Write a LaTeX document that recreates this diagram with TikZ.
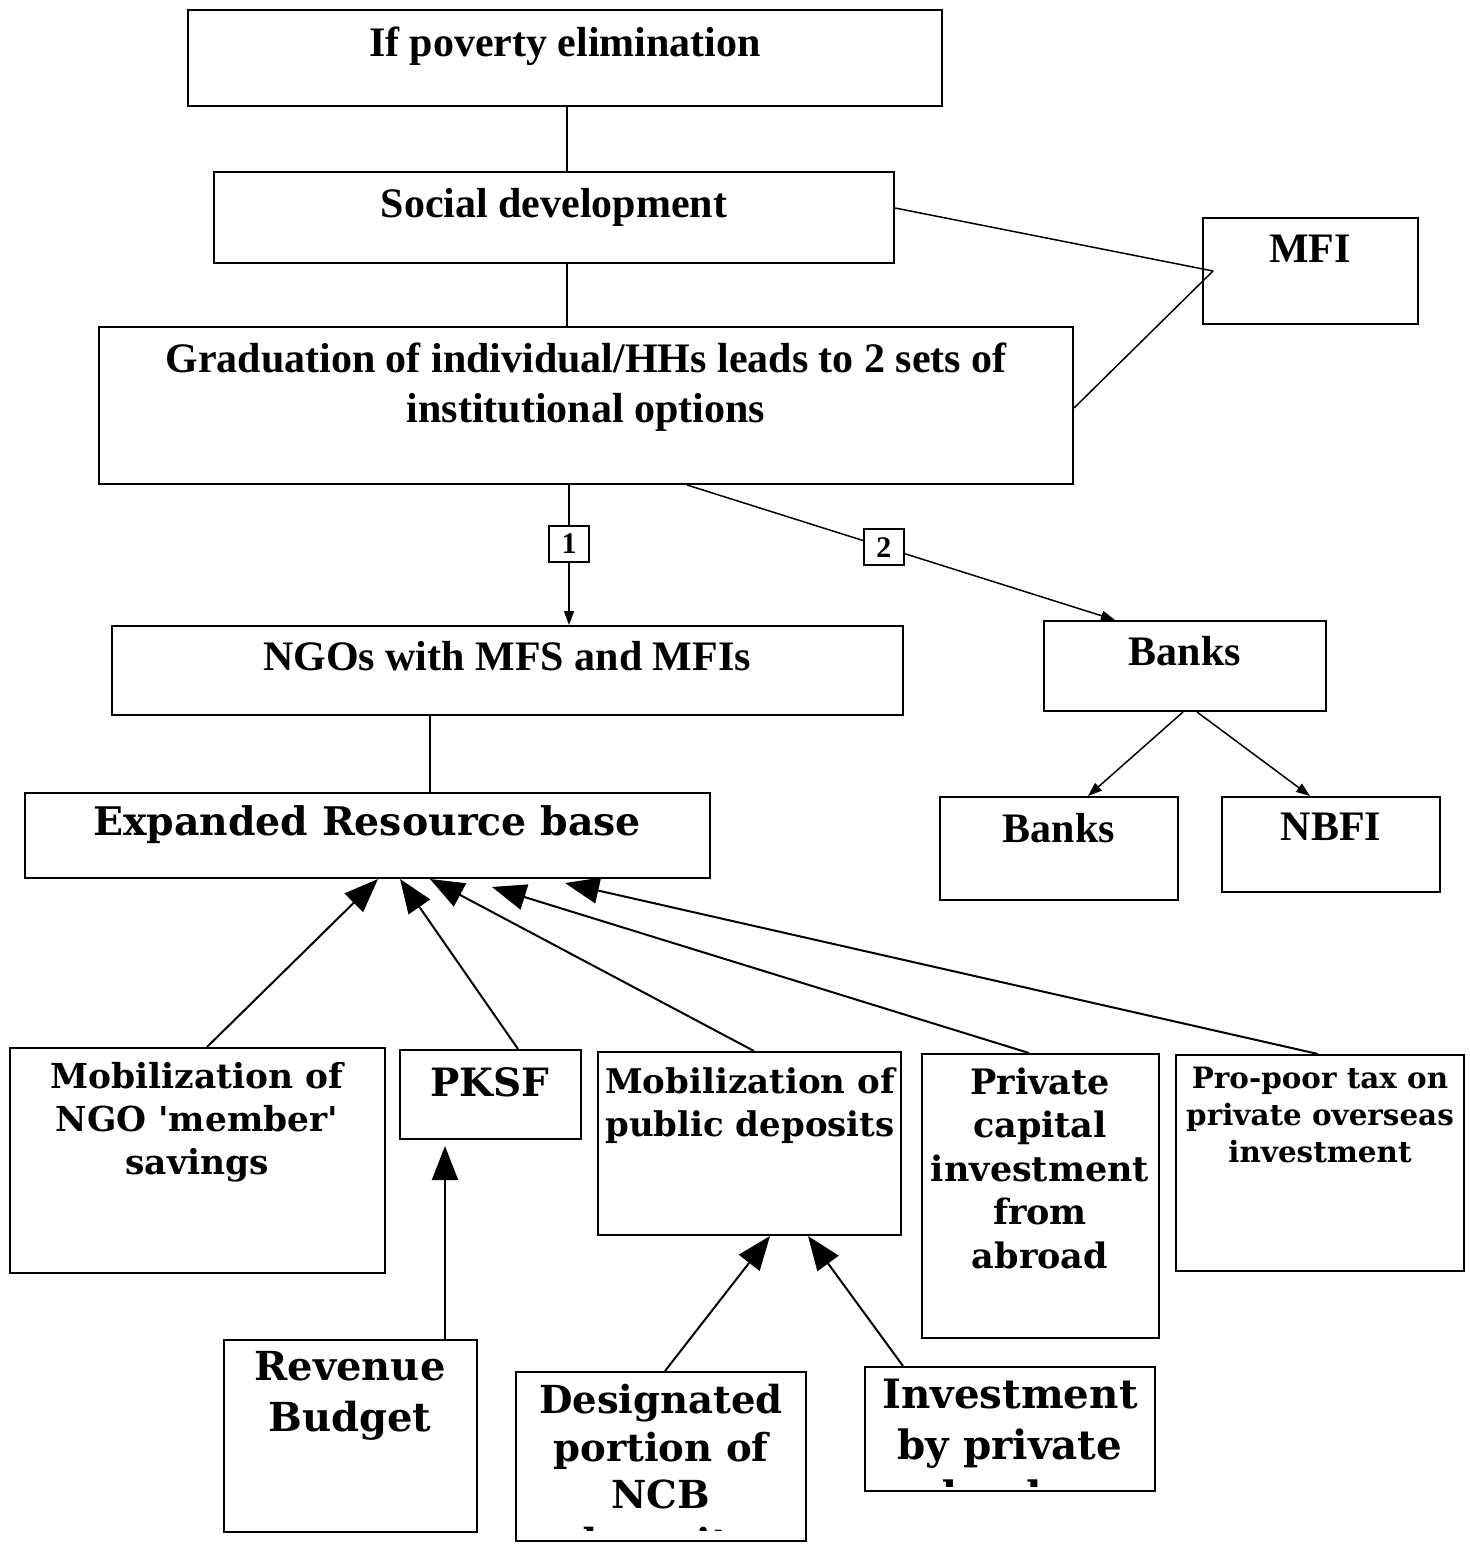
\documentclass[tikz,border=0pt]{standalone}
\usepackage{fontspec}
\setmainfont{Liberation Serif}
\newfontfamily\bkfont{DejaVu Serif}
\usetikzlibrary{arrows.meta,fit,calc}
\begin{document}
\begin{tikzpicture}[x=0.5pt,y=-0.5pt,
  box/.style={draw, line width=1pt, inner sep=0pt, rectangle},
  tm/.style={font=\fontsize{21}{25}\selectfont\bfseries, align=center, anchor=north, inner sep=0pt},
  bk/.style={align=center, anchor=north, inner sep=0pt},
  thinline/.style={line width=0.75pt},
  sarrow/.style={line width=0.75pt, -{Triangle[length=7pt,width=5pt]}},
  barrow/.style={line width=1pt, -{Triangle[length=17pt,width=13pt]}},
  lab/.style={draw, fill=white, line width=0.75pt, inner sep=0pt, minimum width=20pt, minimum height=18pt, font=\fontsize{15}{17}\selectfont\bfseries}
]
\useasboundingbox (0,0) rectangle (1470,1551);

% boxes
\node[box, fit={(188,10) (942,106)}] (pov) {};
\node[box, fit={(214,172) (894,263)}] (soc) {};
\node[box, fit={(1203,218) (1418,324)}] (mfi) {};
\node[box, fit={(99,327) (1073,484)}] (grad) {};
\node[box, fit={(112,626) (903,715)}] (ngo) {};
\node[box, fit={(1044,621) (1326,711)}] (banks) {};
\node[box, fit={(940,797) (1178,900)}] (banksb) {};
\node[box, fit={(1222,797) (1440,892)}] (nbfi) {};
\node[box, fit={(25,793) (710,878)}] (exp) {};
\node[box, fit={(10,1048) (385,1273)}] (mobngo) {};
\node[box, fit={(400,1050) (581,1139)}] (pksf) {};
\node[box, fit={(598,1052) (901,1235)}] (mobpub) {};
\node[box, fit={(922,1054) (1159,1338)}] (priv) {};
\node[box, fit={(1176,1055) (1464,1271)}] (tax) {};
\node[box, fit={(224,1340) (477,1532)}] (rev) {};
\node[box, fit={(516,1372) (806,1541)}] (des) {};
\node[box, fit={(865,1367) (1155,1491)}] (inv) {};

% texts
\node[tm] (povt) at (565,27) {If poverty elimination};
\node[tm] (soct) at (554,188) {Social development};
\node[tm] (mfit) at (1310,235) {MFI};
\node[tm] (gradt) at (586,343) {Graduation of individual/HHs leads to 2 sets of\\institutional options};
\node[tm] (ngot) at (507,641) {NGOs with MFS and MFIs};
\node[tm] (bankst) at (1185,636) {Banks};
\node[tm] (banksbt) at (1059,813) {Banks};
\node[tm] (nbfit) at (1331,813) {NBFI};

\node[bk, font=\bkfont\bfseries\fontsize{19.7}{23}\selectfont] (expt) at (367,805) {Expanded Resource base};
\node[bk, font=\bkfont\bfseries\fontsize{17.2}{21.5}\selectfont] (mobngot) at (197,1062) {Mobilization of\\NGO 'member'\\savings};
\node[bk, font=\bkfont\bfseries\fontsize{19.5}{22}\selectfont] (pksft) at (490,1067) {PKSF};
\node[bk, font=\bkfont\bfseries\fontsize{17}{21.5}\selectfont] (mobpubt) at (750,1067) {Mobilization of\\public deposits};
\node[bk, font=\bkfont\bfseries\fontsize{17.5}{21.75}\selectfont] (privt) at (1040,1067) {Private\\capital\\investment\\from\\abroad};
\node[bk, font=\bkfont\bfseries\fontsize{14.7}{18.5}\selectfont] (taxt) at (1320,1067) {Pro-poor tax on\\private overseas\\investment};
\node[bk, font=\bkfont\bfseries\fontsize{20}{25.5}\selectfont] (revt) at (350,1351) {Revenue\\Budget};
\begin{scope}
\clip (518,1374) rectangle (804,1530);
\node[bk, font=\bkfont\bfseries\fontsize{19.3}{23.75}\selectfont] (dest) at (661,1384) {Designated\\portion of\\NCB\\deposits};
\end{scope}
\begin{scope}
\clip (867,1369) rectangle (1153,1486);
\node[bk, font=\bkfont\bfseries\fontsize{20.2}{25.5}\selectfont] (invt) at (1010,1379) {Investment\\by private\\banks};
\end{scope}

% connectors
\draw[thinline] (pov.south -| 567,0) -- (soc.north -| 567,0);
\draw[thinline] (soc.south -| 567,0) -- (grad.north -| 567,0);
\coordinate (mfiin) at (1213,271);
\draw[thinline] (soc.east |- 0,208) -- (mfiin);
\draw[thinline] (grad.east |- 0,408) -- (mfiin);
\draw[sarrow] (grad.south -| 569,0) -- node[lab, pos=0.42] (l1) {1} (ngo.north -| 569,0);
\draw[sarrow] (grad.south -| 687,0) -- node[lab, pos=0.46] (l2) {2} (banks.north -| 1115,0);
\draw[sarrow] (banks.south -| 1183,0) -- (banksb.north -| 1088,0);
\draw[sarrow] (banks.south -| 1197,0) -- (nbfi.north -| 1310,0);
\draw[thinline] (ngo.south -| 430,0) -- (exp.north -| 430,0);

\draw[barrow] (mobngo.north -| 207,0) -- (exp.south -| 378,0);
\draw[barrow] (pksf.north -| 518,0) -- (exp.south -| 400,0);
\draw[barrow] (mobpub.north -| 754,0) -- (exp.south -| 430,0);
\draw[barrow] (priv.north -| 1029,0) -- ($(exp.south -| 492,0)+(0,8)$);
\draw[barrow] (tax.north -| 1318,0) -- ($(exp.south -| 565,0)+(0,4)$);
\draw[barrow] (rev.north -| 445,0) -- ($(pksf.south -| 445,0)+(0,6)$);
\draw[barrow] (des.north -| 665,0) -- (mobpub.south -| 770,0);
\draw[barrow] (inv.north -| 903,0) -- (mobpub.south -| 808,0);
\end{tikzpicture}
\end{document}
